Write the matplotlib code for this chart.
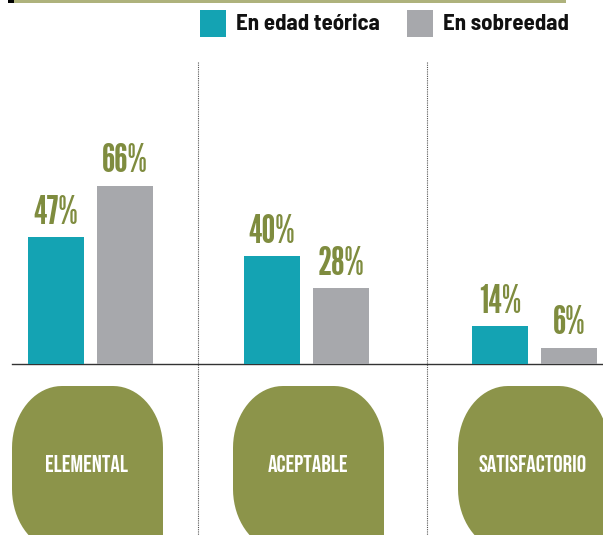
import matplotlib.pyplot as plt
from matplotlib.patches import Rectangle, PathPatch
from matplotlib.path import Path
import numpy as np

# datos
categorias = ['ELEMENTAL', 'ACEPTABLE', 'SATISFACTORIO']
edad_teorica = [47, 40, 14]
sobreedad = [66, 28, 6]
series = ['En edad teórica', 'En sobreedad']

TEAL = '#14a3b3'
GRIS = '#a7a8ac'
OLIVA = '#8c944a'
OLIVA_TXT = '#7f8c3f'

# posiciones (pixeles) de cada grupo
x_teal = [28, 244, 472]
x_gris = [97, 313, 541]
centro_pill = [87, 308, 533]
ancho = 56

fuente_num = ['League Gothic', 'Antonio', 'DejaVu Sans']
fuente_cat = ['Bebas Neue', 'Oswald', 'DejaVu Sans']
fuente_ley = ['Barlow Semi Condensed', 'Roboto Condensed', 'DejaVu Sans']


def pastilla(left, top, w, h, rx, ry):
    # esquinas redondeadas arriba y abajo-izquierda, abajo-derecha recta
    t = np.linspace(0, np.pi / 2, 20)
    pts = []
    cx, cy = left + rx, top + ry
    pts += list(zip(cx - rx * np.cos(t), cy - ry * np.sin(t)))
    cx = left + w - rx
    pts += list(zip(cx + rx * np.sin(t), cy - ry * np.cos(t)))
    pts.append((left + w, top + h))
    cx, cy = left + rx, top + h - ry
    pts += list(zip(cx - rx * np.sin(t), cy + ry * np.cos(t)))
    pts.append(pts[0])
    return Path(pts, closed=True)


W, H = 603, 535
fig = plt.figure(figsize=(W / 100, H / 100), dpi=100)

deco = fig.add_axes([0, 0, 1, 1])
deco.set_xlim(0, W)
deco.set_ylim(H, 0)
deco.axis('off')

# barra superior
deco.add_patch(Rectangle((14, 0), 552, 3, color='#aeb27c', lw=0))
deco.add_patch(Rectangle((8, 0), 6, 3, color='black', lw=0))

# leyenda
for i, (nombre, col) in enumerate(zip(series, [TEAL, GRIS])):
    x0 = [200, 407][i]
    deco.add_patch(Rectangle((x0, 10), 26, 27, color=col, lw=0))
    deco.text(x0 + 36, 24, nombre, fontsize=16.5, fontweight='bold',
              family=fuente_ley, va='center', ha='left', color='#111111')

# lineas punteadas
for xv in [198, 427]:
    deco.plot([xv, xv], [62, H], ls=(0, (1, 1)), color='#555555', lw=0.8)

# linea base
deco.plot([12, W], [364, 364], color='#333333', lw=1)

# pastillas de categoria
for cx, cat in zip(centro_pill, categorias):
    left = cx - 75
    deco.add_patch(PathPatch(pastilla(left, 386, 151, 165, 50, 62),
                             facecolor=OLIVA, lw=0))
    deco.text(cx, 463, cat, color='white', fontsize=17,
              family=fuente_cat, ha='center', va='center')

# eje de datos: 0% en y=364 px, 2.7 px por punto
ax = fig.add_axes([0, 0, 1, 1])
ax.patch.set_alpha(0)
ax.axis('off')
ax.set_xlim(0, W)
esc = 2.7
ax.set_ylim(-(H - 364) / esc, 364 / esc)

ax.bar(x_teal, edad_teorica, width=ancho, align='edge', color=TEAL, lw=0)
ax.bar(x_gris, sobreedad, width=ancho, align='edge', color=GRIS, lw=0)

for xs, vals in [(x_teal, edad_teorica), (x_gris, sobreedad)]:
    for x, v in zip(xs, vals):
        ax.text(x + ancho / 2, v + 5, f'{v}%', ha='center', va='baseline',
                fontsize=28, family=fuente_num, color=OLIVA_TXT)

fig.savefig('out.png', dpi=100)
